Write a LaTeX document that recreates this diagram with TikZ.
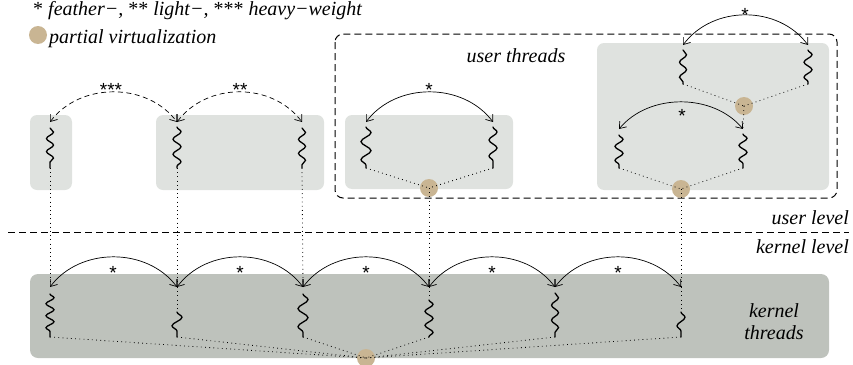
\documentclass[tikz,border=0pt]{standalone}
\usepackage{fontspec}
\setmainfont{Liberation Serif}
\newfontfamily\starfont{Liberation Sans}
\usetikzlibrary{arrows.meta,decorations.pathmorphing}
\definecolor{userbox}{HTML}{DFE2DF}
\definecolor{kernbox}{HTML}{BEC2BC}
\definecolor{tanc}{HTML}{C9B593}
\begin{document}
\begin{tikzpicture}[x=1pt,y=-1pt,
  thr/.style 2 args={line width=1.3pt, line cap=round, decorate, decoration={snake, amplitude=#1, segment length=#2}},
  dotl/.style={line width=0.8pt, dash pattern=on 0.8pt off 3.4pt},
  swap/.style={<->, line width=0.7pt, >={Straight Barb[length=6pt,width=9pt]}},
  dswap/.style={swap, dash pattern=on 5pt off 3.5pt},
  lbl/.style={font=\itshape\fontsize{20}{22}\selectfont, inner sep=0pt},
  stl/.style={font=\starfont\fontsize{19}{19}\selectfont, inner sep=0pt, anchor=base},
  vc/.style={circle, fill=tanc, minimum size=18pt, inner sep=0pt},
]
\useasboundingbox (0,0) rectangle (853,364);

% ---------- boxes ----------
\fill[userbox, rounded corners=7pt] (30,115) rectangle (72,190);
\fill[userbox, rounded corners=7pt] (156,115) rectangle (324,190);
\fill[userbox, rounded corners=7pt] (345,115) rectangle (513,189);
\fill[userbox, rounded corners=7pt] (597,43) rectangle (829,190);
\fill[kernbox, rounded corners=8pt] (30,274) rectangle (829,358);
\draw[line width=1pt, dash pattern=on 7pt off 4pt, rounded corners=8pt] (335,34) rectangle (837,198);
\draw[line width=1.1pt, dash pattern=on 7pt off 4pt] (8,232.5) -- (849,232.5);

% ---------- legend ----------
\node[lbl, anchor=base west] (leg1) at (33,15) {\upshape* \itshape feather−, \upshape** \itshape light−, \upshape*** \itshape heavy−weight};
\node[vc] (legc) at (38,35) {};
\node[lbl, anchor=base west] (leg2) at (49,43) {partial virtualization};

% ---------- texts ----------
\node[lbl, anchor=base] (ut) at (516,62) {user threads};
\node[lbl, anchor=base east] (ul) at (849,224) {user level};
\node[lbl, anchor=base east] (kl) at (849,253) {kernel level};
\node[lbl, align=center] (kt) at (774,322) {kernel\\threads};

% ---------- coordinates ----------
\foreach \n/\x/\t/\a/\b in {u1/50/122/128/168, u2/177/122/127/168, u3/302/122/128/168,
    u4/366/122/127/168, u5/493/122/127/168, u6/683/45/50/84, u7/808/45/50/84,
    u8/619/129/135/168, u9/743/129/134/168,
    k1/50/287/294/337, k2/177/287/312/337, k3/303/287/294/337,
    k4/429/287/300/337, k5/555/287/293/337, k6/681/287/312/337}{
  \coordinate (\n t) at (\x,\t);
  \coordinate (\n a) at (\x,\a);
  \coordinate (\n b) at (\x,\b);
}

% ---------- virtualization circles ----------
\node[vc] (c3) at (429,188) {};
\node[vc] (c4a) at (744,106) {};
\node[vc] (c4b) at (681,189) {};
\node[vc] (ck) at (366,358) {};

% ---------- squiggles ----------
\draw[thr={3.5pt}{13pt}] (u1a) -- (u1b);
\draw[thr={4pt}{15pt}] (u2a) -- (u2b);
\draw[thr={3.5pt}{14pt}] (u3a) -- (u3b);
\draw[thr={5pt}{18pt}] (u4a) -- (u4b);
\draw[thr={4pt}{16pt}] (u5a) -- (u5b);
\draw[thr={3.5pt}{15pt}] (u6a) -- (u6b);
\draw[thr={4pt}{15pt}] (u7a) -- (u7b);
\draw[thr={4pt}{14pt}] (u8a) -- (u8b);
\draw[thr={4pt}{14pt}] (u9a) -- (u9b);
\draw[thr={4pt}{12pt}] (k1a) -- (k1b);
\draw[thr={5pt}{17pt}] (k2a) -- (k2b);
\draw[thr={5pt}{18pt}] (k3a) -- (k3b);
\draw[thr={4pt}{14pt}] (k4a) -- (k4b);
\draw[thr={3.5pt}{15pt}] (k5a) -- (k5b);
\draw[thr={4pt}{17pt}] (k6a) -- (k6b);

% ---------- dotted links ----------
\draw[dotl] (u1b) -- (k1t);
\draw[dotl] (u2b) -- (k2t);
\draw[dotl] (u3b) -- (k3t);
\draw[dotl] (u4b) -- (c3.center);
\draw[dotl] (u5b) -- (c3.center);
\draw[dotl] (c3.center) -- (k4t);
\draw[dotl] (u6b) -- (c4a.center);
\draw[dotl] (u7b) -- (c4a.center);
\draw[dotl] (c4a.center) -- (u9t);
\draw[dotl] (u8b) -- (c4b.center);
\draw[dotl] (u9b) -- (c4b.center);
\draw[dotl] (c4b.center) -- (k6t);
\draw[dotl] (k2t) -- (k2a);
\draw[dotl] (k4t) -- (k4a);
\draw[dotl] (k6t) -- (k6a);
\foreach \k in {k1,k2,k3,k4,k5,k6}{\draw[dotl] (\k b) -- (ck.center);}

% ---------- arcs ----------
\draw[dswap] (u1t) .. controls +(30,-40) and +(-30,-40) .. (u2t);
\draw[dswap] (u2t) .. controls +(30,-40) and +(-30,-40) .. (u3t);
\draw[swap] (u4t) .. controls +(30,-40) and +(-30,-40) .. (u5t);
\draw[swap] (u6t) .. controls +(30,-40) and +(-30,-40) .. (u7t);
\draw[swap] (u8t) .. controls +(30,-36) and +(-30,-36) .. (u9t);
\draw[swap] (k1t) .. controls +(30,-40) and +(-30,-40) .. (k2t);
\draw[swap] (k2t) .. controls +(30,-40) and +(-30,-40) .. (k3t);
\draw[swap] (k3t) .. controls +(30,-40) and +(-30,-40) .. (k4t);
\draw[swap] (k4t) .. controls +(30,-40) and +(-30,-40) .. (k5t);
\draw[swap] (k5t) .. controls +(30,-40) and +(-30,-40) .. (k6t);

% ---------- arc labels ----------
\node[stl] (s1) at (111,96) {***};
\node[stl] (s2) at (240,96) {**};
\node[stl] (s3) at (429,96) {*};
\node[stl] (s4) at (745,21) {*};
\node[stl] (s5) at (682,122) {*};
\foreach \n/\x in {ka/113, kb/240, kc/366, kd/492, ke/618}{\node[stl] (\n) at (\x,279) {*};}
\end{tikzpicture}
\end{document}
